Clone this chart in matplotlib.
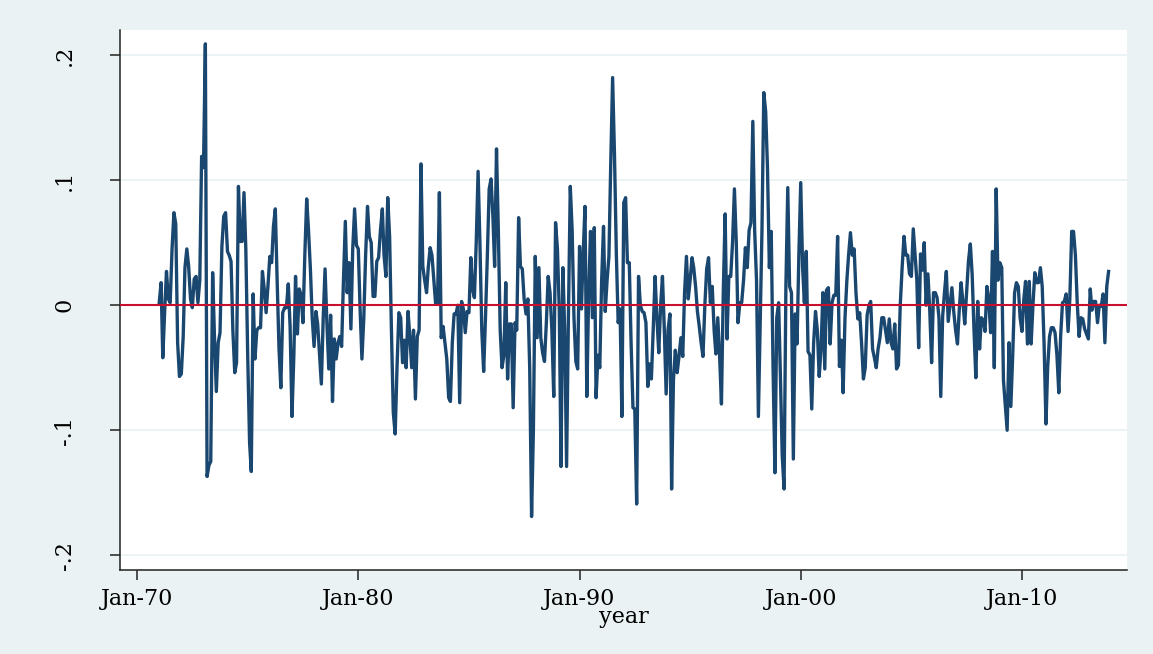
import matplotlib
matplotlib.use("Agg")
import matplotlib.pyplot as plt
import matplotlib.dates as mdates
import pandas as pd
import numpy as np

# monthly returns, Jan-1971 onward, in blocks
ret_a = [0.002, 0.018, -0.042, -0.005, 0.027, 0.005, 0.002, 0.045, 0.074, 0.065,
         -0.030, -0.057, -0.055, -0.025, 0.030, 0.045, 0.031, 0.005, -0.002, 0.021,
         0.023, 0.002, 0.020, 0.119, 0.110, 0.209, -0.137, -0.128, -0.125, 0.026,
         -0.025, -0.069, -0.030, -0.022, 0.047, 0.071, 0.074, 0.043]
ret_b = [0.040, 0.035, -0.020, -0.054, -0.046, 0.095, 0.051, 0.051, 0.090, 0.045,
         -0.040, -0.110, -0.133, 0.009, -0.043, -0.020, -0.018, -0.018, 0.027, 0.013,
         -0.006, 0.015, 0.039, 0.034, 0.063, 0.077, 0.020, -0.035, -0.066, -0.006,
         -0.002, -0.002, 0.017, -0.017, -0.089, -0.040, 0.023, -0.023, 0.013, 0.008,
         -0.014, 0.040, 0.085]
ret_c = [0.060, 0.029, -0.010, -0.033, -0.005, -0.015, -0.040, -0.063, -0.010, 0.029,
         -0.015, -0.051, -0.008, -0.077, -0.027, -0.043, -0.030, -0.025, -0.033, 0.020,
         0.067, 0.010, 0.034, -0.019, 0.045, 0.077, 0.048, 0.045, -0.005, -0.043,
         -0.010, 0.040, 0.079, 0.055, 0.050, 0.007, 0.007, 0.035, 0.038, 0.060,
         0.077, 0.040, 0.023, 0.086]
ret_d = [0.055, -0.020, -0.086, -0.103, -0.050, -0.006, -0.010, -0.046, -0.028, -0.050,
         -0.005, -0.025, -0.050, -0.020, -0.075, -0.025, -0.020, 0.113, 0.031, 0.020,
         0.010, 0.030, 0.046, 0.040, 0.020, 0.001, 0.001, 0.090, -0.026, -0.017,
         -0.030, -0.043, -0.074, -0.077, -0.030, -0.007, -0.007, 0.000, -0.078, 0.003,
         -0.003, -0.022, -0.005]
ret_e = [-0.006, 0.038, 0.013, 0.006, 0.050, 0.107, 0.050, -0.020, -0.053, -0.010,
         0.040, 0.093, 0.101, 0.070, 0.031, 0.125, 0.060, -0.020, -0.050, -0.040,
         0.018, -0.059, -0.015, -0.015, -0.082, -0.014, -0.020, 0.070, 0.031, 0.029,
         0.005, -0.007, 0.005, -0.050, -0.169, -0.100, 0.039, -0.026, 0.030, -0.026,
         -0.038, -0.045, -0.015]
ret_f = [0.023, 0.010, -0.020, -0.073, 0.066, 0.045, -0.005, -0.129, 0.030, -0.020,
         -0.129, -0.010, 0.095, 0.060, -0.010, -0.045, -0.051, 0.047, -0.003, 0.040,
         0.079, -0.073, 0.010, 0.059, -0.010, 0.062, -0.074, -0.040, -0.050, 0.020,
         0.063, -0.005, 0.020, 0.039, 0.115, 0.182, 0.120, 0.040, -0.014, -0.003,
         -0.089, 0.082, 0.086, 0.034]
ret_g = [0.034, -0.030, -0.082, -0.083, -0.159, 0.023, 0.000, -0.005, -0.006, -0.014,
         -0.065, -0.047, -0.059, -0.020, 0.023, -0.010, -0.038, 0.000, 0.023, -0.020,
         -0.071, -0.020, -0.007, -0.147, -0.059, -0.036, -0.054, -0.041, -0.026, -0.041,
         0.010, 0.039, 0.005, 0.020, 0.038, 0.030, 0.015, -0.005, -0.017, -0.030,
         -0.041, 0.000, 0.029]
ret_h = [0.038, 0.002, 0.015, -0.020, -0.039, -0.010, -0.040, -0.079, 0.010, 0.073,
         -0.027, 0.023, 0.023, 0.050, 0.093, 0.050, -0.014, 0.002, 0.002, 0.020,
         0.046, 0.030, 0.060, 0.066, 0.147, 0.060, 0.020, -0.089, -0.020, 0.060,
         0.170, 0.155, 0.110, 0.030, 0.059, -0.050, -0.134, -0.010, 0.002, -0.060,
         -0.120, -0.147, 0.015, 0.094]
ret_i = [0.015, 0.010, -0.123, -0.007, -0.031, 0.040, 0.098, 0.030, 0.002, 0.043,
         -0.037, -0.040, -0.083, -0.030, -0.005, -0.020, -0.057, -0.035, 0.010, -0.051,
         0.012, 0.014, -0.031, 0.002, 0.008, 0.008, 0.055, -0.049, -0.028, -0.070,
         -0.010, 0.020, 0.040, 0.058, 0.040, 0.045, 0.010, -0.011, -0.006, -0.030,
         -0.059, -0.050, -0.008]
ret_j = [0.000, 0.003, -0.035, -0.042, -0.050, -0.035, -0.026, -0.010, -0.010, -0.020,
         -0.030, -0.011, -0.030, -0.035, -0.015, -0.051, -0.048, 0.000, 0.030, 0.055,
         0.040, 0.040, 0.025, 0.023, 0.061, 0.042, 0.020, -0.034, 0.041, 0.028,
         0.050, 0.000, 0.025, -0.005, -0.046, 0.010, 0.010, 0.006, -0.010, -0.073,
         -0.009, 0.010, 0.027]
ret_k = [-0.013, 0.000, 0.014, -0.005, -0.020, -0.031, -0.005, 0.018, 0.003, -0.015,
         0.010, 0.035, 0.049, 0.025, -0.020, -0.058, 0.003, -0.035, -0.010, -0.012,
         -0.021, 0.015, 0.005, -0.022, 0.043, -0.050, 0.093, 0.020, 0.034, 0.030,
         -0.060, -0.080, -0.100, -0.030, -0.081, -0.040, 0.010, 0.018, 0.015, -0.010,
         -0.021, 0.005, 0.019, -0.031]
ret_l = [0.019, -0.031, 0.000, 0.026, 0.018, 0.018, 0.030, 0.015, -0.031, -0.095,
         -0.050, -0.025, -0.018, -0.018, -0.022, -0.040, -0.070, -0.025, 0.002, 0.003,
         0.009, -0.021, 0.005, 0.059, 0.059, 0.040, 0.002, -0.025, -0.010, -0.011,
         -0.019, -0.023, -0.027, 0.013, -0.004, 0.003, 0.003, -0.014, 0.000, -0.001,
         0.009, -0.030, 0.015, 0.027]

returns = ret_a + ret_b + ret_c + ret_d + ret_e + ret_f + ret_g + ret_h + ret_i + ret_j + ret_k + ret_l
dates = pd.date_range("1971-01-01", periods=len(returns), freq="MS")

y_ticks = [-0.2, -0.1, 0.0, 0.1, 0.2]
y_labels = ["-.2", "-.1", "0", ".1", ".2"]
x_ticks = pd.to_datetime(["1970-01-01", "1980-01-01", "1990-01-01", "2000-01-01", "2010-01-01"])

bg = "#eaf2f3"
navy = "#1a476f"

fig = plt.figure(figsize=(11.53, 6.54), dpi=100, facecolor=bg)
ax = fig.add_axes([0.1041, 0.128, 0.8733, 0.826])
ax.set_facecolor("white")

for t in y_ticks:
    ax.axhline(t, color=bg, lw=1.3, zorder=0)
ax.plot(dates, returns, color=navy, lw=2.4, zorder=2)
ax.axhline(0, color="#c8102e", lw=1.5, zorder=3)

ax.set_ylim(-0.212, 0.22)
ax.set_xlim(pd.Timestamp("1969-03-25"), pd.Timestamp("2014-09-30"))

ax.set_yticks(y_ticks)
ax.set_yticklabels(y_labels, rotation=90, va="center", fontsize=16, family="DejaVu Serif")
ax.set_xticks(x_ticks)
ax.xaxis.set_major_formatter(mdates.DateFormatter("Jan-%y"))
for lab in ax.get_xticklabels():
    lab.set_fontsize(16)
    lab.set_family("DejaVu Serif")
ax.set_xlabel("year", fontsize=16, family="DejaVu Serif", labelpad=-3)

ax.tick_params(axis="both", direction="out", length=7, width=1.1, color="#222222")
ax.tick_params(axis="y", pad=25)
ax.tick_params(axis="x", pad=6)
for side in ["top", "right"]:
    ax.spines[side].set_visible(False)
for side in ["left", "bottom"]:
    ax.spines[side].set_color("#222222")
    ax.spines[side].set_linewidth(1.1)

fig.savefig("out.png", dpi=100, facecolor=bg)
